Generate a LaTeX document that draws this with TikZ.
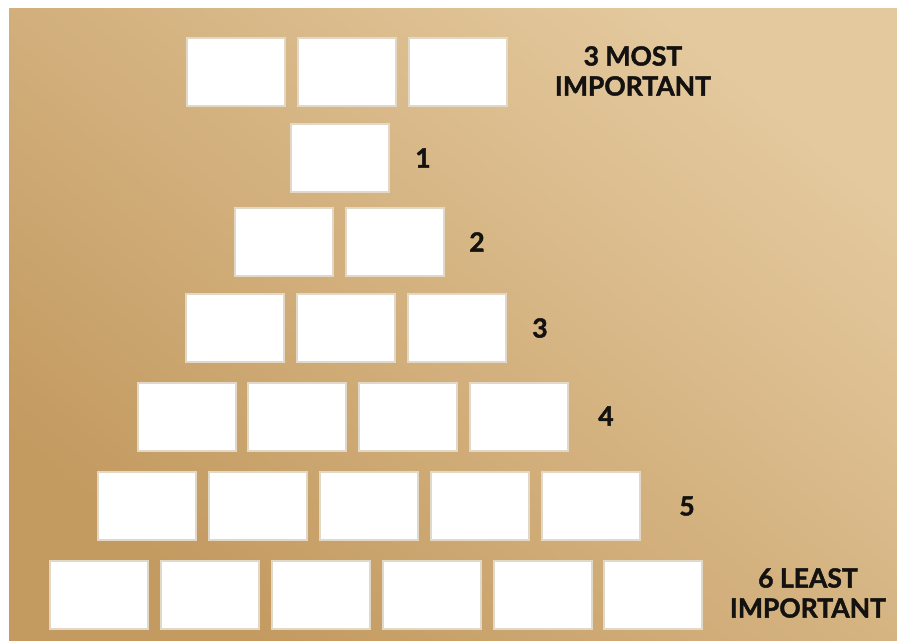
\documentclass[tikz,border=0pt]{standalone}
\usepackage{fontspec}
\setmainfont{Lato}
\newfontfamily\labfont[BoldFeatures={FakeBold=1.6}]{Lato}
\definecolor{kraftlight}{HTML}{E4C99E}
\definecolor{kraftmid}{HTML}{D4AD78}
\definecolor{kraftdark}{HTML}{C39A60}
\definecolor{cardedge}{HTML}{E2D8C8}
\definecolor{inkc}{HTML}{141210}
\tikzset{
  card/.style={draw=cardedge, fill=white, line width=1.2pt, minimum width=98pt, minimum height=68pt, inner sep=0pt},
  lab/.style={text=inkc, font=\labfont\bfseries\fontsize{26.5}{30}\selectfont, align=center, inner sep=0pt}
}
\begin{document}
\begin{tikzpicture}[x=1pt,y=-1pt]
\useasboundingbox (0,0) rectangle (897,640);
\fill[white] (0,0) rectangle (897,640);
\shade[top color=kraftlight, middle color=kraftmid, bottom color=kraftdark, shading angle=-40] (9,8) rectangle (897,640);
% top row
\node[card] (t1) at (236,72) {};
\node[card] (t2) at (347,72) {};
\node[card] (t3) at (458,72) {};
% row 1
\node[card] (a1) at (340,158) {};
% row 2
\node[card] (b1) at (284,242) {};
\node[card] (b2) at (395,242) {};
% row 3
\node[card] (c1) at (235,328) {};
\node[card] (c2) at (346,328) {};
\node[card] (c3) at (457,328) {};
% row 4
\node[card] (d1) at (187,417) {};
\node[card] (d2) at (297,417) {};
\node[card] (d3) at (408,417) {};
\node[card] (d4) at (519,417) {};
% row 5
\node[card] (e1) at (147,506) {};
\node[card] (e2) at (258,506) {};
\node[card] (e3) at (369,506) {};
\node[card] (e4) at (480,506) {};
\node[card] (e5) at (591,506) {};
% row 6
\node[card] (f1) at (99,595) {};
\node[card] (f2) at (210,595) {};
\node[card] (f3) at (321,595) {};
\node[card] (f4) at (432,595) {};
\node[card] (f5) at (543,595) {};
\node[card] (f6) at (653,595) {};
% labels
\node[lab] (lt) at (633,71) {3 MOST\\IMPORTANT};
\node[lab] (l1) at (423,158) {1};
\node[lab] (l2) at (477,242) {2};
\node[lab] (l3) at (540,328) {3};
\node[lab] (l4) at (606,416) {4};
\node[lab] (l5) at (687,506) {5};
\node[lab] (lb) at (808,593) {6 LEAST\\IMPORTANT};
\end{tikzpicture}
\end{document}
